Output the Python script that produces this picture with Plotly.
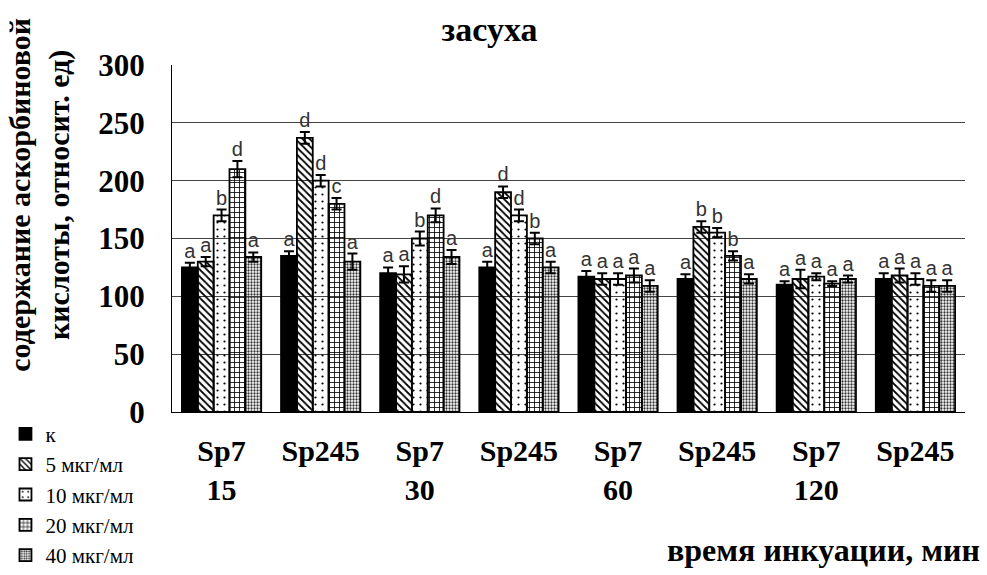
import plotly.graph_objects as go

categories = ["Sp7<br>15", "Sp245", "Sp7<br>30", "Sp245 ", "Sp7<br>60", "Sp245  ", "Sp7<br>120", "Sp245   "]
series_names = ["к", "5 мкг/мл", "10 мкг/мл", "20 мкг/мл", "40 мкг/мл"]

vals_k   = [125, 135, 120, 125, 117, 115, 110, 115]
vals_5   = [130, 237, 119, 190, 115, 160, 115, 118]
vals_10  = [170, 200, 150, 170, 115, 155, 117, 115]
vals_20  = [210, 180, 170, 150, 118, 135, 111, 109]
vals_40  = [134, 130, 134, 125, 109, 115, 115, 109]

err_k   = [4, 4, 5, 5, 5, 4, 3, 5]
err_5   = [4, 5, 7, 5, 5, 5, 8, 6]
err_10  = [5, 5, 6, 5, 5, 4, 3, 5]
err_20  = [7, 5, 6, 5, 6, 4, 2, 5]
err_40  = [4, 7, 6, 5, 5, 4, 3, 5]

let_k   = ["a", "a", "a", "a", "a", "a", "a", "a"]
let_5   = ["a", "d", "a", "d", "a", "b", "a", "a"]
let_10  = ["b", "d", "b", "d", "a", "b", "a", "a"]
let_20  = ["d", "c", "d", "b", "a", "b", "a", "a"]
let_40  = ["a", "a", "a", "a", "a", "a", "a", "a"]

y_ticks = [0, 50, 100, 150, 200, 250, 300]

values = [vals_k, vals_5, vals_10, vals_20, vals_40]
errors = [err_k, err_5, err_10, err_20, err_40]
letters = [let_k, let_5, let_10, let_20, let_40]

patterns = [
    dict(color="black", pattern=dict(shape="")),
    dict(color="white", pattern=dict(shape="\\", fgcolor="black", size=5, solidity=0.35, fillmode="replace")),
    dict(color="white", pattern=dict(shape=".", fgcolor="black", size=7, solidity=0.08, fillmode="replace")),
    dict(color="white", pattern=dict(shape="+", fgcolor="black", size=5, solidity=0.3, fillmode="replace")),
    dict(color="white", pattern=dict(shape=".", fgcolor="#333", size=3, solidity=0.45, fillmode="replace")),
]

serif = "Liberation Serif, Times New Roman, serif"
sans = "Liberation Sans, Arial, sans-serif"

fig = go.Figure()
for i, name in enumerate(series_names):
    m = dict(patterns[i])
    m["line"] = dict(color="black", width=1.8)
    fig.add_trace(go.Bar(
        x=categories, y=values[i], name=name, marker=m,
        offsetgroup=str(i), legendgroup=str(i),
        error_y=dict(type="data", array=errors[i], color="black", thickness=2, width=5),
    ))
for i, name in enumerate(series_names):
    fig.add_trace(go.Scatter(
        x=categories, y=[v + e for v, e in zip(values[i], errors[i])],
        mode="text", text=letters[i], textposition="top center",
        textfont=dict(family=sans, size=20, color="#333"),
        offsetgroup=str(i), showlegend=False, hoverinfo="skip",
    ))

fig.update_layout(
    width=987, height=575,
    paper_bgcolor="white", plot_bgcolor="white",
    margin=dict(l=172, r=22, t=65, b=163, autoexpand=False),
    barmode="group", bargap=0.2, bargroupgap=0,
    scattermode="group", scattergap=0.2,
    title=dict(text="<b>засуха</b>", x=0.496, xref="container", xanchor="center",
               y=0.95, yanchor="middle", font=dict(family=serif, size=34, color="black")),
    showlegend=True,
    legend=dict(x=-0.21, y=-0.005, xanchor="left", yanchor="top",
                font=dict(family=serif, size=21, color="black"),
                bgcolor="rgba(0,0,0,0)", traceorder="normal"),
    xaxis=dict(
        tickfont=dict(family=serif, size=30, color="black"),
        showline=True, linecolor="black", linewidth=1,
        ticks="", showgrid=False, ticklabelstandoff=12, automargin=False,
    ),
    yaxis=dict(
        range=[0, 300], tickvals=y_ticks,
        ticktext=[f"<b>{t}</b>" for t in y_ticks],
        tickfont=dict(family=serif, size=31, color="black"),
        showgrid=True, gridcolor="#444", gridwidth=1,
        showline=True, linecolor="black", linewidth=1,
        ticks="", zeroline=False, ticklabelstandoff=20, automargin=False,
    ),
)
fig.update_xaxes(ticktext=[f"<b>{c.strip()}</b>" for c in categories], tickvals=categories)
fig.add_annotation(text="<b>содержание аскорбиновой<br>кислоты, относит. ед)</b>",
                   xref="paper", yref="paper", x=-0.167, y=0.625, textangle=-90,
                   xanchor="center", yanchor="middle", showarrow=False,
                   font=dict(family=serif, size=30, color="black"))
fig.add_annotation(text="<b>время инкуации, мин</b>", xref="paper", yref="paper",
                   x=1.021, y=-0.398, xanchor="right", yanchor="middle", showarrow=False,
                   font=dict(family=serif, size=32, color="black"))

fig.write_html("out.html")
